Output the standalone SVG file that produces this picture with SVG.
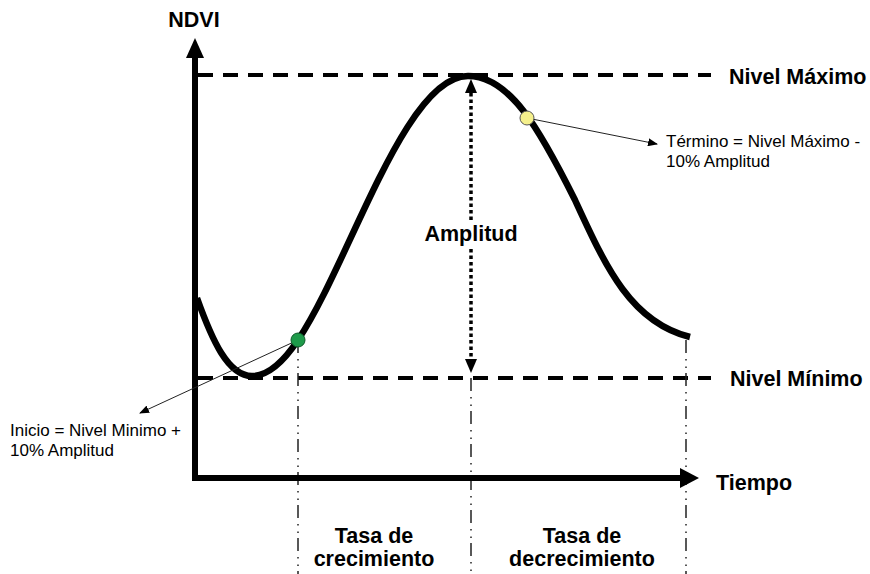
<svg xmlns="http://www.w3.org/2000/svg" width="870" height="574" viewBox="0 0 870 574">
<style>
.bold{font-family:"Liberation Sans",Arial,sans-serif;font-weight:bold;font-size:21.5px;fill:#000}
.small{font-family:"Liberation Sans",Arial,sans-serif;font-size:17px;fill:#000}
.dash{stroke:#000;stroke-width:4;stroke-dasharray:15 10;fill:none}
.dd{stroke:#222;stroke-width:1.5;stroke-dasharray:13 6 1.5 6 1.5 5;fill:none}
.thin{stroke:#222;stroke-width:1;fill:none}
</style>
<defs>
<marker id="ah" markerWidth="10" markerHeight="8" refX="9" refY="4" orient="auto" markerUnits="userSpaceOnUse">
<path d="M0,0 L10,4 L0,8 Z" fill="#000"/>
</marker>
<marker id="ah2" markerWidth="12" markerHeight="12" refX="11" refY="6" orient="auto" markerUnits="userSpaceOnUse">
<path d="M0,0 L12,6 L0,12 Z" fill="#000"/>
</marker>
</defs>
<rect width="870" height="574" fill="#fff"/>
<g id="guides">
<line class="dash" x1="198" y1="75" x2="711" y2="75"/>
<line class="dash" x1="198" y1="378" x2="711" y2="378"/>
<line class="dd" x1="298" y1="340" x2="298" y2="574"/>
<line class="dd" x1="471" y1="378" x2="471" y2="574"/>
<line class="dd" x1="686" y1="340" x2="686" y2="574"/>
</g>
<g id="axes">
<line x1="195" y1="481" x2="195" y2="55" stroke="#000" stroke-width="6"/>
<path d="M195,38 L186,58 L204,58 Z" fill="#000"/>
<line x1="192" y1="478" x2="682" y2="478" stroke="#000" stroke-width="6"/>
<path d="M699,478 L680,468 L680,488 Z" fill="#000"/>
</g>
<g id="curve">
<path d="M197,298 C212,340 228,376 252,376 C272,376 288,355 298,340 C350,262 405,76 468,76 C510,76 540,130 575,200 C605,265 630,322 690,337" fill="none" stroke="#000" stroke-width="6.5"/>
</g>
<g id="connectors">
<line x1="471" y1="93" x2="471" y2="360" stroke="#000" stroke-width="3.5" stroke-dasharray="3.5 3"/>
<path d="M471,79 L465,93 L477,93 Z" fill="#000"/>
<path d="M471,373 L465,359 L477,359 Z" fill="#000"/>
<line class="thin" x1="298" y1="340" x2="140" y2="413" marker-end="url(#ah)"/>
<line class="thin" x1="527" y1="118" x2="657" y2="144" marker-end="url(#ah)"/>
</g>
<g id="inicio">
<circle cx="298" cy="340" r="7" fill="#1e9a4a" stroke="#0d5a2a" stroke-width="1"/>
<text class="small" x="10" y="436">Inicio = Nivel Minimo +</text>
<text class="small" x="10" y="456">10% Amplitud</text>
</g>
<g id="termino">
<circle cx="527" cy="118" r="7" fill="#f5f08c" stroke="#555" stroke-width="1"/>
<text class="small" x="666" y="147">Término = Nivel Máximo -</text>
<text class="small" x="666" y="167">10% Amplitud</text>
</g>
<g id="labels">
<text class="bold" x="194" y="27" text-anchor="middle">NDVI</text>
<text class="bold" x="729" y="84">Nivel Máximo</text>
<text class="bold" x="730" y="386">Nivel Mínimo</text>
<text class="bold" x="716" y="490">Tiempo</text>
<rect x="420" y="220" width="102" height="28" fill="#fff"/>
<text class="bold" x="471" y="241" text-anchor="middle">Amplitud</text>
<text class="bold" x="374" y="543" text-anchor="middle">Tasa de</text>
<text class="bold" x="374" y="566" text-anchor="middle">crecimiento</text>
<text class="bold" x="582" y="543" text-anchor="middle">Tasa de</text>
<text class="bold" x="582" y="566" text-anchor="middle">decrecimiento</text>
</g>
</svg>
